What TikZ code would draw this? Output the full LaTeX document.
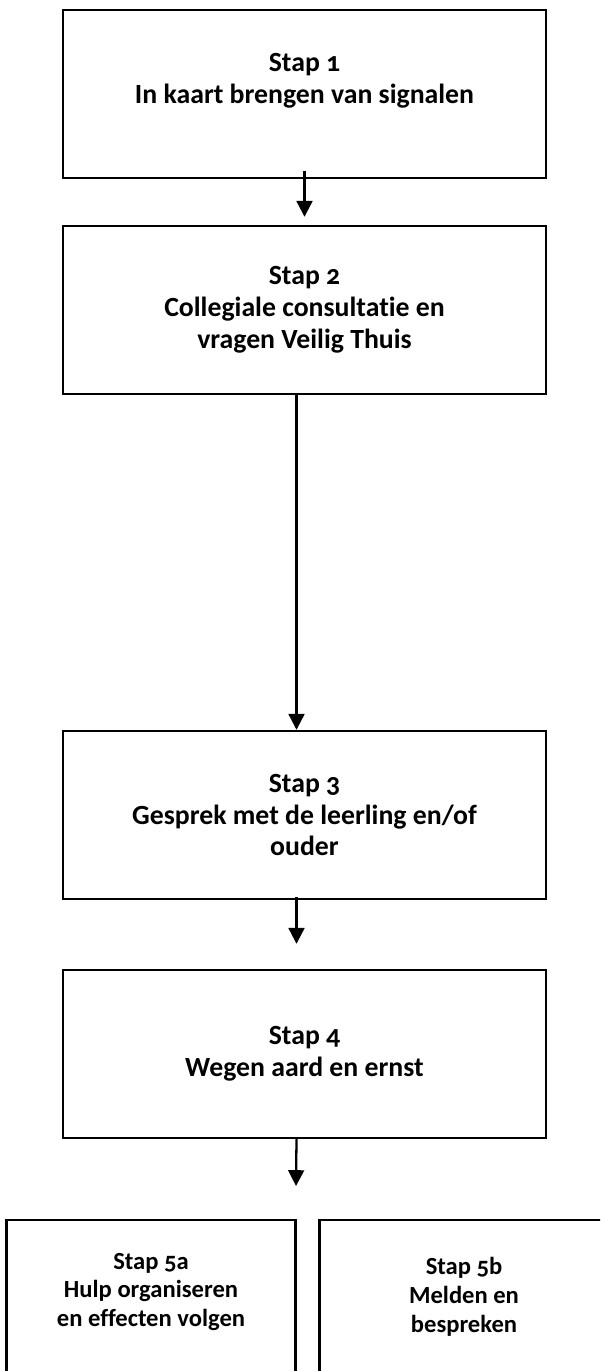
\documentclass[tikz,border=0pt]{standalone}
\usepackage{fontspec}
\setmainfont{Carlito}[Numbers=OldStyle, Ligatures=NoCommon]
\usetikzlibrary{arrows.meta,positioning}
\tikzset{
  stap/.style={draw, line width=1.4pt, minimum width=9.66cm, minimum height=3.36cm,
    inner sep=0pt, align=center, font=\fontsize{15.8}{18.2}\selectfont\bfseries},
  stapklein/.style={draw, line width=1.4pt, minimum width=5.78cm, minimum height=3.8cm,
    inner sep=0pt, anchor=north},
  klein/.style={align=center, font=\fontsize{14}{16.5}\selectfont\bfseries},
  pijl/.style={-{Triangle[length=9pt,width=9pt]}, line width=1.3pt}
}
\begin{document}
\begin{tikzpicture}[x=0.02cm, y=-0.02cm]
\clip (0,0) rectangle (600,1371);
\node[stap] (s1) at (304.5,94) {Stap 1\\In kaart brengen van signalen\\\mbox{}};
\node[stap] (s2) at (304.5,310) {Stap 2\\Collegiale consultatie en\\vragen Veilig Thuis};
\node[stap] (s3) at (304.5,815) {Stap 3\\Gesprek met de leerling en/of\\ouder};
\node[stap] (s4) at (304.5,1054) {Stap 4\\Wegen aard en ernst};
\node[stapklein] (s5a) at (151,1219) {};
\node[stapklein] (s5b) at (464,1219) {};
\node[klein] (t5a) at (151,1292) {Stap 5a\\Hulp organiseren\\en effecten volgen};
\node[klein] (t5b) at (464,1297) {Stap 5b\\Melden en\\bespreken};
\coordinate (p4) at (296,1186);
\draw[pijl] ([yshift=0.16cm]s1.south) -- ([yshift=0.16cm]s2.north);
\draw[pijl] ([xshift=-0.16cm]s2.south) -- ([xshift=-0.16cm]s3.north);
\draw[pijl] ([xshift=-0.16cm,yshift=0.06cm]s3.south) -- ([xshift=-0.16cm,yshift=0.5cm]s4.north);
\draw[pijl] ([xshift=-0.16cm]s4.south) -- (p4);
\end{tikzpicture}
\end{document}
